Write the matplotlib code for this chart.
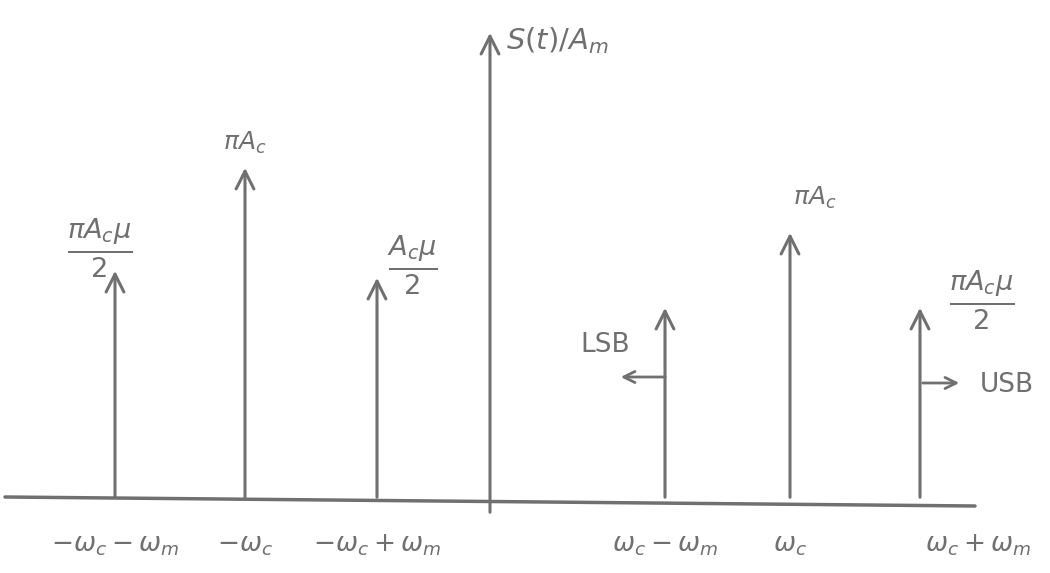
import matplotlib.pyplot as plt

# spectrum of an AM signal, hand sketch (x, heights in sketch units)
freq_labels = [r'$-\omega_c-\omega_m$', r'$-\omega_c$', r'$-\omega_c+\omega_m$',
               r'$\omega_c-\omega_m$', r'$\omega_c$', r'$\omega_c+\omega_m$']
freq_pos = [115, 245, 377, 665, 790, 920]
amplitudes = [232, 335, 225, 195, 270, 195]
amp_labels = [r'$\frac{\pi A_c\mu}{2}$', r'$\pi A_c$', r'$\frac{A_c\mu}{2}$',
              '', r'$\pi A_c$', r'$\frac{\pi A_c\mu}{2}$']

INK = '#707070'
BASE = 73

fig = plt.figure(figsize=(10.5, 5.73), dpi=100)
ax = fig.add_axes([0, 0, 1, 1])
ax.set_xlim(0, 1050)
ax.set_ylim(0, 573)
ax.axis('off')

arrow = dict(arrowstyle='->', lw=2.2, color=INK, mutation_scale=32)

# frequency axis and vertical axis
ax.plot([5, 975], [BASE + 3, BASE - 6], color=INK, lw=2.5, solid_capstyle='round')
ax.annotate('', xy=(490, 543), xytext=(490, 58), arrowprops=arrow)
ax.text(506, 532, r'$S(t)/A_m$', fontsize=21, color=INK, va='center')

for x, h, fl in zip(freq_pos, amplitudes, freq_labels):
    ax.annotate('', xy=(x, BASE + h), xytext=(x, BASE), arrowprops=arrow)
    ax.text(x + (58 if x > 900 else 0), BASE - 45, fl, fontsize=19, color=INK,
            ha='center', va='center')

# amplitude labels
ax.text(freq_pos[0] - 15, BASE + amplitudes[0] + 20, amp_labels[0], fontsize=28,
        color=INK, ha='center', va='center')
ax.text(freq_pos[1], BASE + amplitudes[1] + 22, amp_labels[1], fontsize=18,
        color=INK, ha='center', va='center')
ax.text(freq_pos[2] + 35, BASE + amplitudes[2] + 10, amp_labels[2], fontsize=28,
        color=INK, ha='center', va='center')
ax.text(freq_pos[4] + 25, BASE + amplitudes[4] + 32, amp_labels[4], fontsize=18,
        color=INK, ha='center', va='center')
ax.text(freq_pos[5] + 62, BASE + amplitudes[5] + 5, amp_labels[5], fontsize=28,
        color=INK, ha='center', va='center')

# sideband markers
side = dict(arrowstyle='->', lw=2, color=INK, mutation_scale=20)
ax.annotate('', xy=(618, 196), xytext=(668, 196), arrowprops=side)
ax.text(605, 228, 'LSB', fontsize=19, color=INK, ha='center', va='center')
ax.annotate('', xy=(962, 190), xytext=(920, 190), arrowprops=side)
ax.text(1007, 188, 'USB', fontsize=19, color=INK, ha='center', va='center')

fig.savefig('out.png', dpi=100, facecolor='white')
